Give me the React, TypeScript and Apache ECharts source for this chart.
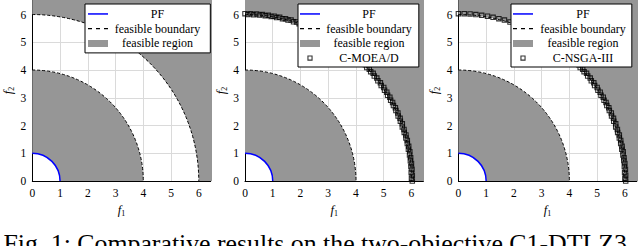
import React, { useEffect, useRef } from "react";
import * as echarts from "echarts";

// ---- data ----
const pfRadius = [1];
const boundaryRadii = [4, 6];
// feasible region bands [inner radius, outer radius]; the outer band runs past the plotted box
const feasibleBands = [
  [1, 4],
  [6, 10],
];
const seriesNames = ["PF", "feasible boundary", "feasible region"];
const algoNames = ["C-MOEA/D", "C-NSGA-III"];
const captionText = "Fig. 1: Comparative results on the two-objective C1-DTLZ3";

const cmoeadPoints = [
  [6.03, 0.0], [6.03, 0.21], [6.02, 0.42], [6.0, 0.63], [5.97, 0.84], [5.94, 1.05],
  [5.9, 1.25], [5.85, 1.46], [5.8, 1.66], [5.73, 1.86], [5.67, 2.06], [5.59, 2.26],
  [5.51, 2.45], [5.42, 2.64], [5.32, 2.83], [5.22, 3.02], [5.11, 3.2], [5.0, 3.37],
  [4.88, 3.54], [4.75, 3.71], [4.62, 3.88], [4.48, 4.03], [4.34, 4.19], [4.19, 4.34],
  [4.03, 4.48], [3.88, 4.62], [3.71, 4.75], [3.54, 4.88], [3.37, 5.0], [3.2, 5.11],
  [3.02, 5.22], [2.83, 5.32], [2.64, 5.42], [2.45, 5.51], [2.26, 5.59], [2.06, 5.67],
  [1.86, 5.73], [1.66, 5.8], [1.46, 5.85], [1.25, 5.9], [1.05, 5.94], [0.84, 5.97],
  [0.63, 6.0], [0.42, 6.02], [0.21, 6.03], [0.0, 6.03],
  [6.0, 0.1], [5.99, 0.31], [5.98, 0.52], [5.96, 0.73], [5.93, 0.94], [5.89, 1.14],
  [5.85, 1.35], [5.8, 1.55], [5.74, 1.75], [5.67, 1.95], [5.6, 2.15], [5.52, 2.34],
  [5.44, 2.54], [5.35, 2.72], [5.25, 2.91], [5.14, 3.09], [5.03, 3.27], [4.91, 3.44],
  [4.79, 3.61], [4.66, 3.78], [4.53, 3.94], [4.39, 4.09], [4.24, 4.24], [4.09, 4.39],
  [3.94, 4.53], [3.78, 4.66], [3.61, 4.79], [3.44, 4.91], [3.27, 5.03], [3.09, 5.14],
  [2.91, 5.25], [2.72, 5.35], [2.54, 5.44], [2.34, 5.52], [2.15, 5.6],
  [1.95, 5.67], [1.75, 5.74], [1.55, 5.8], [1.35, 5.85], [1.14, 5.89], [0.94, 5.93],
  [0.73, 5.96], [0.52, 5.98], [0.31, 5.99], [0.1, 6.0],
];

const cnsgaPoints = [
  [6.03, 0.0], [6.03, 0.21], [6.02, 0.42], [6.0, 0.63], [5.97, 0.84], [5.94, 1.05],
  [5.9, 1.25], [5.85, 1.46], [5.8, 1.66], [5.73, 1.86], [5.67, 2.06], [5.59, 2.26],
  [5.51, 2.45], [5.42, 2.64], [5.32, 2.83], [5.22, 3.02], [5.11, 3.2], [5.0, 3.37],
  [4.88, 3.54], [4.75, 3.71], [4.62, 3.88], [4.48, 4.03], [4.34, 4.19], [4.19, 4.34],
  [4.03, 4.48], [3.88, 4.62], [3.71, 4.75], [3.54, 4.88], [3.37, 5.0], [3.2, 5.11],
  [3.02, 5.22], [2.83, 5.32], [2.64, 5.42], [2.45, 5.51], [2.26, 5.59], [2.06, 5.67],
  [1.86, 5.73], [1.66, 5.8], [1.46, 5.85], [1.25, 5.9], [1.05, 5.94], [0.84, 5.97],
  [0.63, 6.0], [0.42, 6.02], [0.21, 6.03], [0.0, 6.03],
  [6.0, 0.1], [5.99, 0.31], [5.98, 0.52], [5.96, 0.73], [5.93, 0.94], [5.89, 1.14],
  [5.85, 1.35], [5.8, 1.55], [5.74, 1.75], [5.67, 1.95], [5.6, 2.15], [5.52, 2.34],
  [5.44, 2.54], [5.35, 2.72], [5.25, 2.91], [5.14, 3.09], [5.03, 3.27], [4.91, 3.44],
  [4.79, 3.61], [4.66, 3.78], [4.53, 3.94], [4.39, 4.09], [4.24, 4.24],
];

// ---- styles ----
const SERIF = '"Liberation Serif", "Times New Roman", serif';
const GRAY = "#969696";
const BLUE = "#0000ff";
// legend icons drawn inside a 20 x 14.7 box (the two leading moves fix the box)
const LINE_ICON = "path://M0,0 M20,14.7 M0,6.6H20V8.1H0Z";
const DASH_ICON = "path://M0,0 M20,14.7 M0,6.7H4V8H0Z M8,6.7H12V8H8Z M16,6.7H20V8H16Z";
const RECT_ICON = "path://M0,0 M20,14.7 M0,4H20V11H0Z";
const SQUARE_ICON = "path://M0,0 M20,14.7 M7.4,4.75H12.6V9.95H7.4Z M8.5,5.85V8.85H11.5V5.85Z";
const SQUARE_MARK = "path://M0,0H5V5H0Z M1,1V4H4V1Z";

const X_MAX = 6.43;
const Y_MAX = 6.52;
const GRID_LEFTS = [32.3, 245, 458.4];
const GRID_W = 178.4;
const GRID_H = 180.9;
const GRID_TOP = 0.1;

function sectorItem(params: any, api: any) {
  const c = api.coord([0, 0]);
  const r0 = api.size([api.value(0), 0])[0];
  const r = api.size([api.value(1), 0])[0];
  return {
    type: "sector",
    shape: { cx: c[0], cy: c[1], r0, r, startAngle: -Math.PI / 2, endAngle: 0, clockwise: true },
    style: { fill: GRAY, stroke: null },
  };
}

function arcItem(color: string, width: number, dash: number[] | null) {
  return (params: any, api: any) => {
    const c = api.coord([0, 0]);
    const r = api.size([api.value(0), 0])[0];
    return {
      type: "arc",
      shape: { cx: c[0], cy: c[1], r, startAngle: -Math.PI / 2, endAngle: 0, clockwise: true },
      style: { stroke: color, lineWidth: width, lineDash: dash, fill: null },
    };
  };
}

export default function App() {
  const ref = useRef<HTMLDivElement>(null);

  useEffect(() => {
    if (!ref.current) return;
    const chart = echarts.init(ref.current, null, { renderer: "svg" });

    const grids: any[] = [];
    const xAxes: any[] = [];
    const yAxes: any[] = [];
    const series: any[] = [];
    const legends: any[] = [];

    const legendLayout = [
      { left: 85, padding: [2.6, 10, 2.2, 3], textW: 89 },
      { left: 298, padding: [2.6, 7, 1.6, 2], textW: 88 },
      { left: 511, padding: [2.6, 6, 1.6, 2], textW: 90 },
    ];

    for (let g = 0; g < 3; g++) {
      grids.push({ left: GRID_LEFTS[g], top: GRID_TOP, width: GRID_W, height: GRID_H, containLabel: false });
      const axisCommon = {
        type: "value",
        gridIndex: g,
        min: 0,
        interval: 1,
        axisLine: { show: true, lineStyle: { color: "#000", width: 1 } },
        axisTick: { show: false },
        splitLine: { show: true, lineStyle: { color: "#dadada", width: 1 } },
        nameLocation: "middle",
        nameTextStyle: {
          color: "#000",
          fontFamily: SERIF,
          fontSize: 12,
          rich: {
            i: { fontStyle: "italic", fontFamily: SERIF, fontSize: 12.5, color: "#000" },
            s: { fontFamily: SERIF, fontSize: 8, color: "#000", padding: [6, 0, 0, 0] },
          },
        },
      };
      xAxes.push({
        ...axisCommon,
        max: X_MAX,
        name: "{i|f}{s|1}",
        nameGap: 19,
        axisLabel: { showMaxLabel: false, margin: 6, color: "#000", fontFamily: SERIF, fontSize: 11.5 },
      });
      yAxes.push({
        ...axisCommon,
        max: Y_MAX,
        name: "{i|f}{s|2}",
        nameGap: 17,
        axisLabel: { showMaxLabel: false, margin: 6, color: "#000", fontFamily: SERIF, fontSize: 11.5 },
      });

      series.push({
        type: "custom",
        name: seriesNames[2],
        xAxisIndex: g,
        yAxisIndex: g,
        clip: true,
        z: 1,
        itemStyle: { color: GRAY },
        data: feasibleBands,
        renderItem: sectorItem,
      });
      series.push({
        type: "custom",
        name: seriesNames[1],
        xAxisIndex: g,
        yAxisIndex: g,
        z: 2,
        itemStyle: { color: "#000" },
        data: boundaryRadii.map((r) => [r]),
        renderItem: arcItem("#000", 1, [3, 2]),
      });
      series.push({
        type: "custom",
        name: seriesNames[0],
        xAxisIndex: g,
        yAxisIndex: g,
        z: 2,
        itemStyle: { color: BLUE },
        data: pfRadius.map((r) => [r]),
        renderItem: arcItem(BLUE, 1.5, null),
      });

      const legendData: any[] = [
        { name: seriesNames[0], icon: LINE_ICON },
        { name: seriesNames[1], icon: DASH_ICON },
        { name: seriesNames[2], icon: RECT_ICON },
      ];
      if (g > 0) {
        const nm = algoNames[g - 1];
        series.push({
          type: "scatter",
          name: nm,
          xAxisIndex: g,
          yAxisIndex: g,
          z: 3,
          symbol: SQUARE_MARK,
          symbolSize: 5.5,
          itemStyle: { color: "#000" },
          data: g === 1 ? cmoeadPoints : cnsgaPoints,
        });
        legendData.push({ name: nm, icon: SQUARE_ICON });
      }
      const L = legendLayout[g];
      legends.push({
        data: legendData,
        orient: "vertical",
        left: L.left,
        top: 4,
        z: 10,
        padding: L.padding,
        itemGap: 0,
        itemWidth: 20,
        itemHeight: 14.7,
        symbolKeepAspect: false,
        selectedMode: false,
        backgroundColor: "#fff",
        borderColor: "#000",
        borderWidth: 1,
        borderRadius: 0,
        formatter: "{c|{name}}",
        textStyle: {
          color: "#000",
          fontFamily: SERIF,
          fontSize: 12,
          rich: {
            c: { width: L.textW, align: "center", fontFamily: SERIF, fontSize: 12, color: "#000" },
          },
        },
      });
    }

    chart.setOption({
      animation: false,
      backgroundColor: "#fff",
      grid: grids,
      xAxis: xAxes,
      yAxis: yAxes,
      legend: legends,
      series,
      graphic: [
        {
          type: "text",
          left: 3.5,
          top: 230,
          silent: true,
          style: { text: captionText, font: `25.8px ${SERIF}`, fill: "#000" },
        },
      ],
    });

    return () => chart.dispose();
  }, []);

  return (
    <div
      ref={ref}
      style={{ position: "fixed", left: 0, top: 0, width: 640, height: 246, background: "#fff" }}
    />
  );
}
